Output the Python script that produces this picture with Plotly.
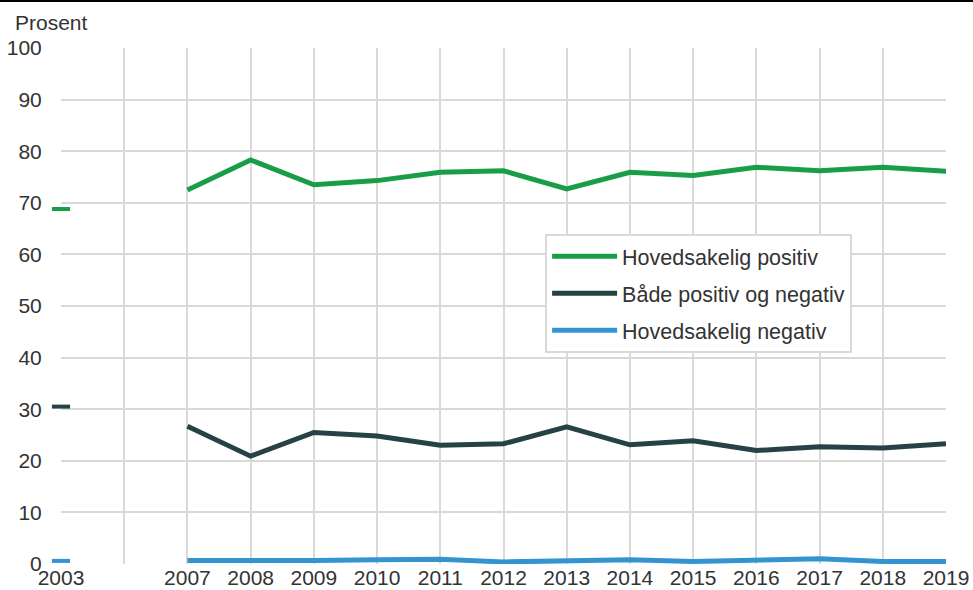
import plotly.graph_objects as go

categories = ["2003", " ", "2007", "2008", "2009", "2010", "2011", "2012", "2013",
              "2014", "2015", "2016", "2017", "2018", "2019"]
positiv = [68.8, None, 72.5, 78.3, 73.5, 74.3, 75.9, 76.2, 72.7, 75.9, 75.3, 76.9, 76.2, 76.9, 76.1]
begge = [30.5, None, 26.7, 20.9, 25.5, 24.8, 23.0, 23.3, 26.6, 23.1, 23.9, 22.0, 22.7, 22.5, 23.3]
negativ = [0.6, None, 0.7, 0.6, 0.7, 0.8, 0.9, 0.4, 0.6, 0.8, 0.5, 0.8, 1.0, 0.5, 0.5]
names = ["Hovedsakelig positiv", "Både positiv og negativ", "Hovedsakelig negativ"]
colors = ["#1a9d49", "#274247", "#3494d2"]
yticks = [0, 10, 20, 30, 40, 50, 60, 70, 80, 90, 100]

fig = go.Figure()
for i, (vals, name, col) in enumerate(zip([positiv, begge, negativ], names, colors)):
    fig.add_trace(go.Scatter(
        x=categories, y=vals, name=name, mode="lines", legendgroup=f"g{i}",
        line=dict(color=col, width=5), connectgaps=False, cliponaxis=False,
    ))
    # the single 2003 point shown as a short dash
    fig.add_trace(go.Scatter(
        x=categories[:1], y=vals[:1], mode="markers", showlegend=False,
        legendgroup=f"g{i}", cliponaxis=False,
        marker=dict(symbol="line-ew", size=13, line=dict(color=col, width=4)),
        hoverinfo="skip",
    ))

fig.update_layout(
    width=973, height=590,
    margin=dict(l=61, r=27, t=48, b=26, autoexpand=False),
    paper_bgcolor="white", plot_bgcolor="white",
    font=dict(family="Liberation Sans, Arial, sans-serif", size=21, color="#333333"),
    showlegend=True,
    legend=dict(
        x=0.547, y=0.64, xanchor="left", yanchor="top",
        bordercolor="#d9d9d9", borderwidth=2, bgcolor="white",
        font=dict(size=21.5), tracegroupgap=6, itemwidth=65,
    ),
    xaxis=dict(
        type="category", categoryorder="array", categoryarray=categories,
        range=[0, 14], showgrid=True, gridcolor="#d9d9d9", gridwidth=2,
        zeroline=False, showline=False, ticks="", ticklabelstandoff=-1,
        tickfont=dict(size=21), automargin=False,
    ),
    yaxis=dict(
        range=[0, 100], tickvals=yticks, showgrid=True, gridcolor="#d9d9d9", gridwidth=2,
        zeroline=False, showline=False, ticks="outside", ticklen=14, tickcolor="white",
        tickfont=dict(size=21), automargin=False,
    ),
    annotations=[dict(
        text="Prosent", xref="paper", yref="paper", x=-0.054, y=1.05,
        xanchor="left", yanchor="middle", showarrow=False, font=dict(size=21),
    )],
    shapes=[dict(
        type="line", xref="paper", yref="paper", x0=-0.07, x1=1.04, y0=1.091, y1=1.091,
        line=dict(color="black", width=2),
    )],
)

fig.write_html("out.html", post_script="document.body.style.margin='0';",
               config={"displayModeBar": False})
